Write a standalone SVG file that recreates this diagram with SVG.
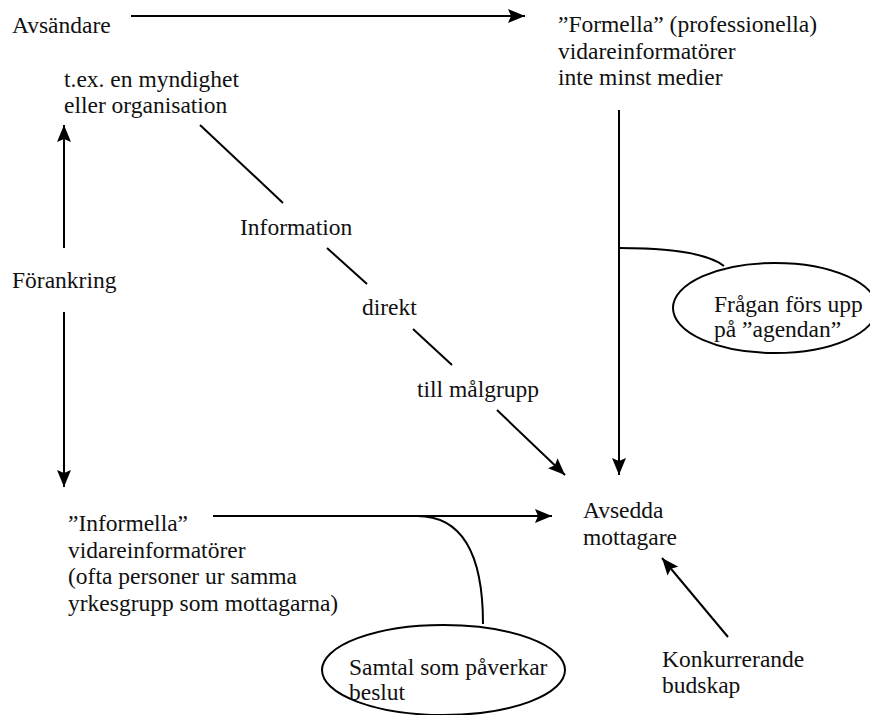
<svg xmlns="http://www.w3.org/2000/svg" width="870" height="715" viewBox="0 0 870 715" font-family="Liberation Serif, DejaVu Serif, serif">
<defs>
<style>
text{font-family:'Liberation Serif','DejaVu Serif',serif;font-size:23.5px;fill:#111;}
.ln{stroke:#000;stroke-width:2;fill:none;}
.arr{marker-end:url(#ah);}
.ell{stroke:#000;stroke-width:2;fill:#fff;}
</style>
<marker id="ah" markerUnits="userSpaceOnUse" markerWidth="18" markerHeight="14" viewBox="0 0 18 14" refX="17" refY="7" orient="auto">
<path d="M0,0 L17,7 L0,14 L3,7 z" fill="#000"/>
</marker>
</defs>
<rect width="870" height="715" fill="#fff"/>
<g id="connectors">
<path class="ln arr" d="M131,16 L525,16"/>
<path class="ln arr" d="M64,248 L64,125"/>
<path class="ln arr" d="M64,312 L64,487"/>
<path class="ln" d="M200,125 L283,203"/>
<path class="ln" d="M327,248 L367,284"/>
<path class="ln" d="M413,329 L452,365"/>
<path class="ln arr" d="M497,410 L565,475"/>
<path class="ln arr" d="M619,110 L619,475"/>
<path class="ln" d="M619,248 C680,248 710,255 724,266"/>
<path class="ln arr" d="M213,516 L552,516"/>
<path class="ln" d="M417,516 C465,516 483,560 483,624"/>
<path class="ln arr" d="M728,637 L662,558"/>
</g>
<g id="avsandare">
<text x="12" y="33">Avsändare</text>
<text x="64" y="87">t.ex. en myndighet</text>
<text x="64" y="113">eller organisation</text>
</g>
<g id="formella">
<text x="558" y="32">”Formella” (professionella)</text>
<text x="558" y="58.5">vidareinformatörer</text>
<text x="558" y="85">inte minst medier</text>
</g>
<g id="forankring">
<text x="12" y="288">Förankring</text>
</g>
<g id="information-labels">
<text x="240" y="235">Information</text>
<text x="362" y="315">direkt</text>
<text x="417" y="397">till målgrupp</text>
</g>
<g id="agendan">
<ellipse class="ell" cx="775" cy="308" rx="102" ry="45"/>
<text x="714" y="312">Frågan förs upp</text>
<text x="714" y="337">på ”agendan”</text>
</g>
<g id="avsedda">
<text x="583" y="518">Avsedda</text>
<text x="583" y="545">mottagare</text>
</g>
<g id="informella">
<text x="68" y="531">”Informella”</text>
<text x="68" y="557.5">vidareinformatörer</text>
<text x="68" y="584">(ofta personer ur samma</text>
<text x="68" y="610.5">yrkesgrupp som mottagarna)</text>
</g>
<g id="samtal">
<ellipse class="ell" cx="443.5" cy="670" rx="121.5" ry="45"/>
<text x="349" y="675">Samtal som påverkar</text>
<text x="349" y="700">beslut</text>
</g>
<g id="konkurrerande">
<text x="662" y="667">Konkurrerande</text>
<text x="662" y="693">budskap</text>
</g>
</svg>
